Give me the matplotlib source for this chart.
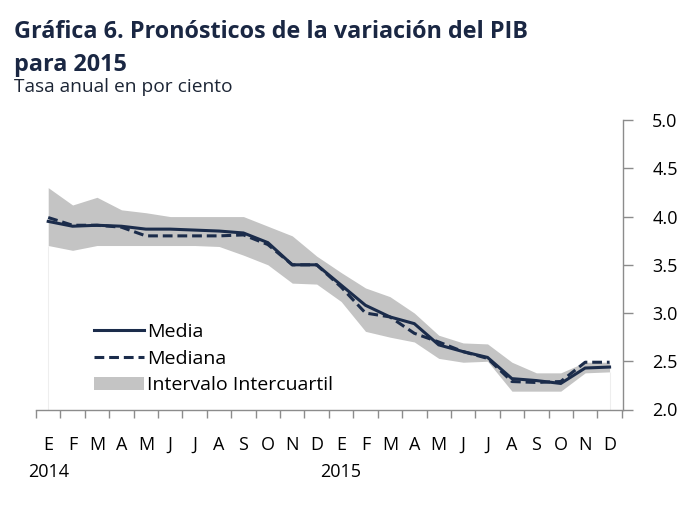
import matplotlib
matplotlib.use('Agg')
import matplotlib.pyplot as plt
import matplotlib.transforms as mtransforms
from matplotlib.patches import Patch
from matplotlib.lines import Line2D

plt.rcParams['font.family'] = ['Open Sans', 'DejaVu Sans']

# pronosticos mensuales, enero 2014 - diciembre 2015
meses = ['E', 'F', 'M', 'A', 'M', 'J', 'J', 'A', 'S', 'O', 'N', 'D',
         'E', 'F', 'M', 'A', 'M', 'J', 'J', 'A', 'S', 'O', 'N', 'D']
anios = ['2014', '2015']
media = [3.95, 3.90, 3.91, 3.90, 3.87, 3.87, 3.86, 3.85, 3.83, 3.73, 3.50, 3.50,
         3.29, 3.08, 2.96, 2.89, 2.67, 2.60, 2.54, 2.32, 2.30, 2.27, 2.43, 2.44]
mediana = [3.99, 3.91, 3.91, 3.89, 3.80, 3.80, 3.80, 3.80, 3.81, 3.71, 3.50, 3.50,
           3.27, 3.00, 2.96, 2.79, 2.70, 2.60, 2.53, 2.29, 2.28, 2.29, 2.49, 2.49]
q_sup = [4.30, 4.12, 4.20, 4.07, 4.04, 4.00, 4.00, 4.00, 4.00, 3.90, 3.80, 3.59,
         3.42, 3.26, 3.17, 3.00, 2.77, 2.69, 2.68, 2.49, 2.38, 2.38, 2.49, 2.49]
q_inf = [3.70, 3.65, 3.70, 3.70, 3.70, 3.70, 3.70, 3.69, 3.60, 3.50, 3.31, 3.30,
         3.12, 2.81, 2.75, 2.70, 2.53, 2.49, 2.50, 2.19, 2.19, 2.19, 2.38, 2.39]

navy = '#1b2c4b'
gris = '#c4c4c4'
x = list(range(len(meses)))

fig = plt.figure(figsize=(7, 5.2), dpi=100)
ax = fig.add_axes([36/700, 0.2125, 587/700, 0.769 - 0.2125])

ax.fill_between(x, q_inf, q_sup, color=gris, lw=0)
ax.vlines([x[0], x[-1]], 2.0, [q_inf[0], q_inf[-1]], color='#eeeeee', lw=0.8)
ax.plot(x, media, color=navy, lw=2.2, solid_joinstyle='miter')
ax.plot(x, mediana, color=navy, lw=2.2, ls=(0, (3.2, 1.6)))

ax.set_xlim(-0.5, 23.55)
ax.set_ylim(2.0, 5.0)

for s in ['left', 'top']:
    ax.spines[s].set_visible(False)
for s in ['right', 'bottom']:
    ax.spines[s].set_color('#8c8c8c')
    ax.spines[s].set_linewidth(1.0)

ax.yaxis.tick_right()
ax.set_yticks([2.0, 2.5, 3.0, 3.5, 4.0, 4.5, 5.0])
ax.set_yticklabels(['%.1f' % v for v in [2.0, 2.5, 3.0, 3.5, 4.0, 4.5, 5.0]])
ax.tick_params(axis='y', direction='out', length=7, width=1.0, color='#8c8c8c',
               pad=14, labelsize=13, labelcolor='black')

ax.set_xticks(x)
ax.set_xticklabels(meses)
ax.set_xticks([i - 0.5 for i in range(len(meses) + 1)], minor=True)
ax.tick_params(axis='x', which='major', length=0, pad=19, labelsize=13, labelcolor='black')
ax.tick_params(axis='x', which='minor', direction='out', length=6, width=1.0, color='#8c8c8c')

trans = mtransforms.blended_transform_factory(ax.transData, fig.transFigure)
ax.text(0, 1 - 472/520, anios[0], transform=trans, ha='center', va='center', fontsize=13)
ax.text(12, 1 - 472/520, anios[1], transform=trans, ha='center', va='center', fontsize=13)

handles = [Line2D([], [], color=navy, lw=2.2),
           Line2D([], [], color=navy, lw=2.2, ls=(0, (3.2, 1.6))),
           Patch(facecolor=gris, edgecolor='none')]
ax.legend(handles, ['Media', 'Mediana', 'Intervalo Intercuartil'],
          loc='lower left', bbox_to_anchor=(0.085, 0.025), frameon=False,
          fontsize=14, handlelength=2.6, handletextpad=0.15, labelspacing=0.45,
          borderaxespad=0)

fig.text(14/700, 1 - 38/520, 'Gráfica 6. Pronósticos de la variación del PIB',
         fontsize=16.8, fontweight='bold', color='#1a2743', va='baseline')
fig.text(14/700, 1 - 71/520, 'para 2015',
         fontsize=16.8, fontweight='bold', color='#1a2743', va='baseline')
fig.text(14/700, 1 - 92/520, 'Tasa anual en por ciento',
         fontsize=13.8, color='#1c2535', va='baseline')

fig.savefig('out.png', dpi=100)
